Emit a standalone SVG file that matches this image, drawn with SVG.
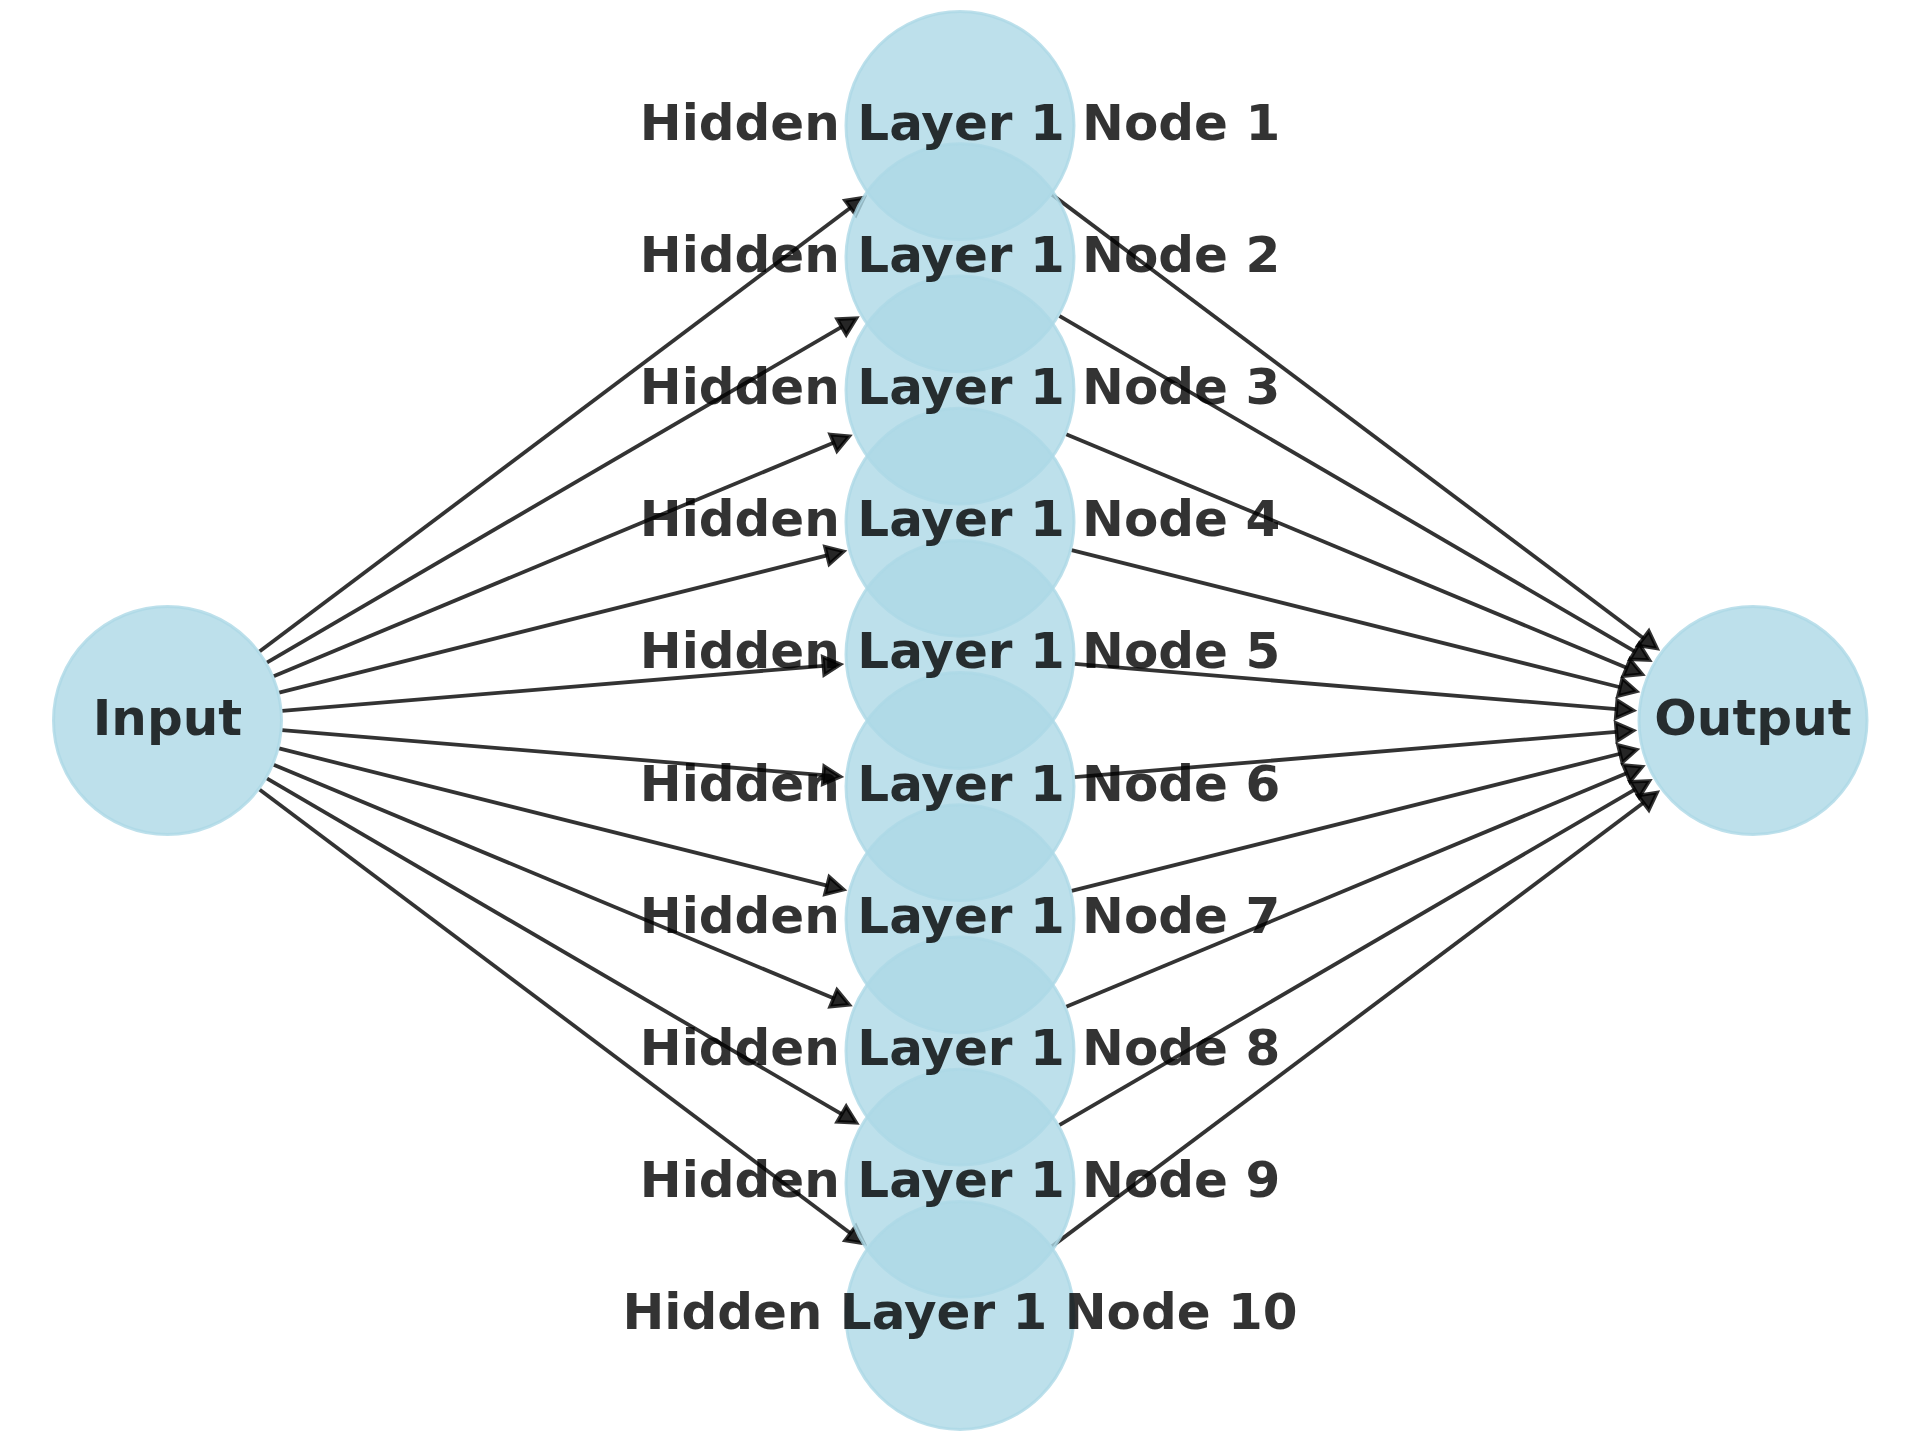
<svg xmlns="http://www.w3.org/2000/svg" width="1920" height="1440" viewBox="0 0 1920 1440">
<style>
.edge{stroke:#000;stroke-opacity:0.8;stroke-width:3.8;fill:none;marker-end:url(#ah)}
.node{fill:#add8e6;fill-opacity:0.8;stroke:#add8e6;stroke-opacity:0.8;stroke-width:3}
.lbl{font-family:"DejaVu Sans","Liberation Sans",sans-serif;font-weight:bold;font-size:50px;fill:#000;fill-opacity:0.8;text-anchor:middle}
</style>
<defs>
<marker id="ah" markerUnits="userSpaceOnUse" markerWidth="40" markerHeight="40" refX="0" refY="0" viewBox="-5 -20 40 40" orient="auto" overflow="visible">
<path d="M0,-9 L17,0 L0,9 Z" fill="#000" fill-opacity="0.85" stroke="#000" stroke-opacity="0.8" stroke-width="3.6" stroke-linejoin="miter"/>
</marker>
</defs>
<rect width="1920" height="1440" fill="#fff"/>
<g id="edges">
<line class="edge" x1="259.47" y1="651.46" x2="850.44" y2="207.85"/>
<line class="edge" x1="266.81" y1="662.52" x2="841.69" y2="326.87"/>
<line class="edge" x1="273.64" y1="676.24" x2="833.55" y2="442.73"/>
<line class="edge" x1="279.06" y1="692.58" x2="827.10" y2="555.46"/>
<line class="edge" x1="282.10" y1="710.94" x2="823.48" y2="665.79"/>
<line class="edge" x1="282.10" y1="730.06" x2="823.48" y2="775.21"/>
<line class="edge" x1="279.06" y1="748.42" x2="827.10" y2="885.54"/>
<line class="edge" x1="273.64" y1="764.76" x2="833.55" y2="998.27"/>
<line class="edge" x1="266.81" y1="778.48" x2="841.69" y2="1114.13"/>
<line class="edge" x1="259.47" y1="789.54" x2="850.44" y2="1233.15"/>
<line class="edge" x1="1051.97" y1="194.64" x2="1643.44" y2="638.25"/>
<line class="edge" x1="1059.31" y1="315.78" x2="1634.69" y2="651.43"/>
<line class="edge" x1="1066.14" y1="434.26" x2="1626.55" y2="667.77"/>
<line class="edge" x1="1071.56" y1="550.12" x2="1620.10" y2="687.24"/>
<line class="edge" x1="1074.60" y1="663.96" x2="1616.48" y2="709.11"/>
<line class="edge" x1="1074.60" y1="777.04" x2="1616.48" y2="731.89"/>
<line class="edge" x1="1071.56" y1="890.88" x2="1620.10" y2="753.76"/>
<line class="edge" x1="1066.14" y1="1006.74" x2="1626.55" y2="773.23"/>
<line class="edge" x1="1059.31" y1="1125.22" x2="1634.69" y2="789.57"/>
<line class="edge" x1="1051.97" y1="1246.36" x2="1643.44" y2="802.75"/>
</g>
<g id="node-input"><circle class="node" cx="167.5" cy="720.5" r="114"/></g>
<g id="node-h1"><circle class="node" cx="960" cy="125.6" r="114"/></g>
<g id="node-h2"><circle class="node" cx="960" cy="257.8" r="114"/></g>
<g id="node-h3"><circle class="node" cx="960" cy="390" r="114"/></g>
<g id="node-h4"><circle class="node" cx="960" cy="522.2" r="114"/></g>
<g id="node-h5"><circle class="node" cx="960" cy="654.4" r="114"/></g>
<g id="node-h6"><circle class="node" cx="960" cy="786.6" r="114"/></g>
<g id="node-h7"><circle class="node" cx="960" cy="918.8" r="114"/></g>
<g id="node-h8"><circle class="node" cx="960" cy="1051" r="114"/></g>
<g id="node-h9"><circle class="node" cx="960" cy="1183.2" r="114"/></g>
<g id="node-h10"><circle class="node" cx="960" cy="1315.4" r="114"/></g>
<g id="node-output"><circle class="node" cx="1753" cy="720.5" r="114"/></g>
<g id="labels">
<text class="lbl" x="167.5" y="734.5">Input</text>
<text class="lbl" x="960" y="139.6">Hidden Layer 1 Node 1</text>
<text class="lbl" x="960" y="271.8">Hidden Layer 1 Node 2</text>
<text class="lbl" x="960" y="404">Hidden Layer 1 Node 3</text>
<text class="lbl" x="960" y="536.2">Hidden Layer 1 Node 4</text>
<text class="lbl" x="960" y="668.4">Hidden Layer 1 Node 5</text>
<text class="lbl" x="960" y="800.6">Hidden Layer 1 Node 6</text>
<text class="lbl" x="960" y="932.8">Hidden Layer 1 Node 7</text>
<text class="lbl" x="960" y="1065">Hidden Layer 1 Node 8</text>
<text class="lbl" x="960" y="1197.2">Hidden Layer 1 Node 9</text>
<text class="lbl" x="960" y="1329.4">Hidden Layer 1 Node 10</text>
<text class="lbl" x="1753" y="734.5">Output</text>
</g>
</svg>
